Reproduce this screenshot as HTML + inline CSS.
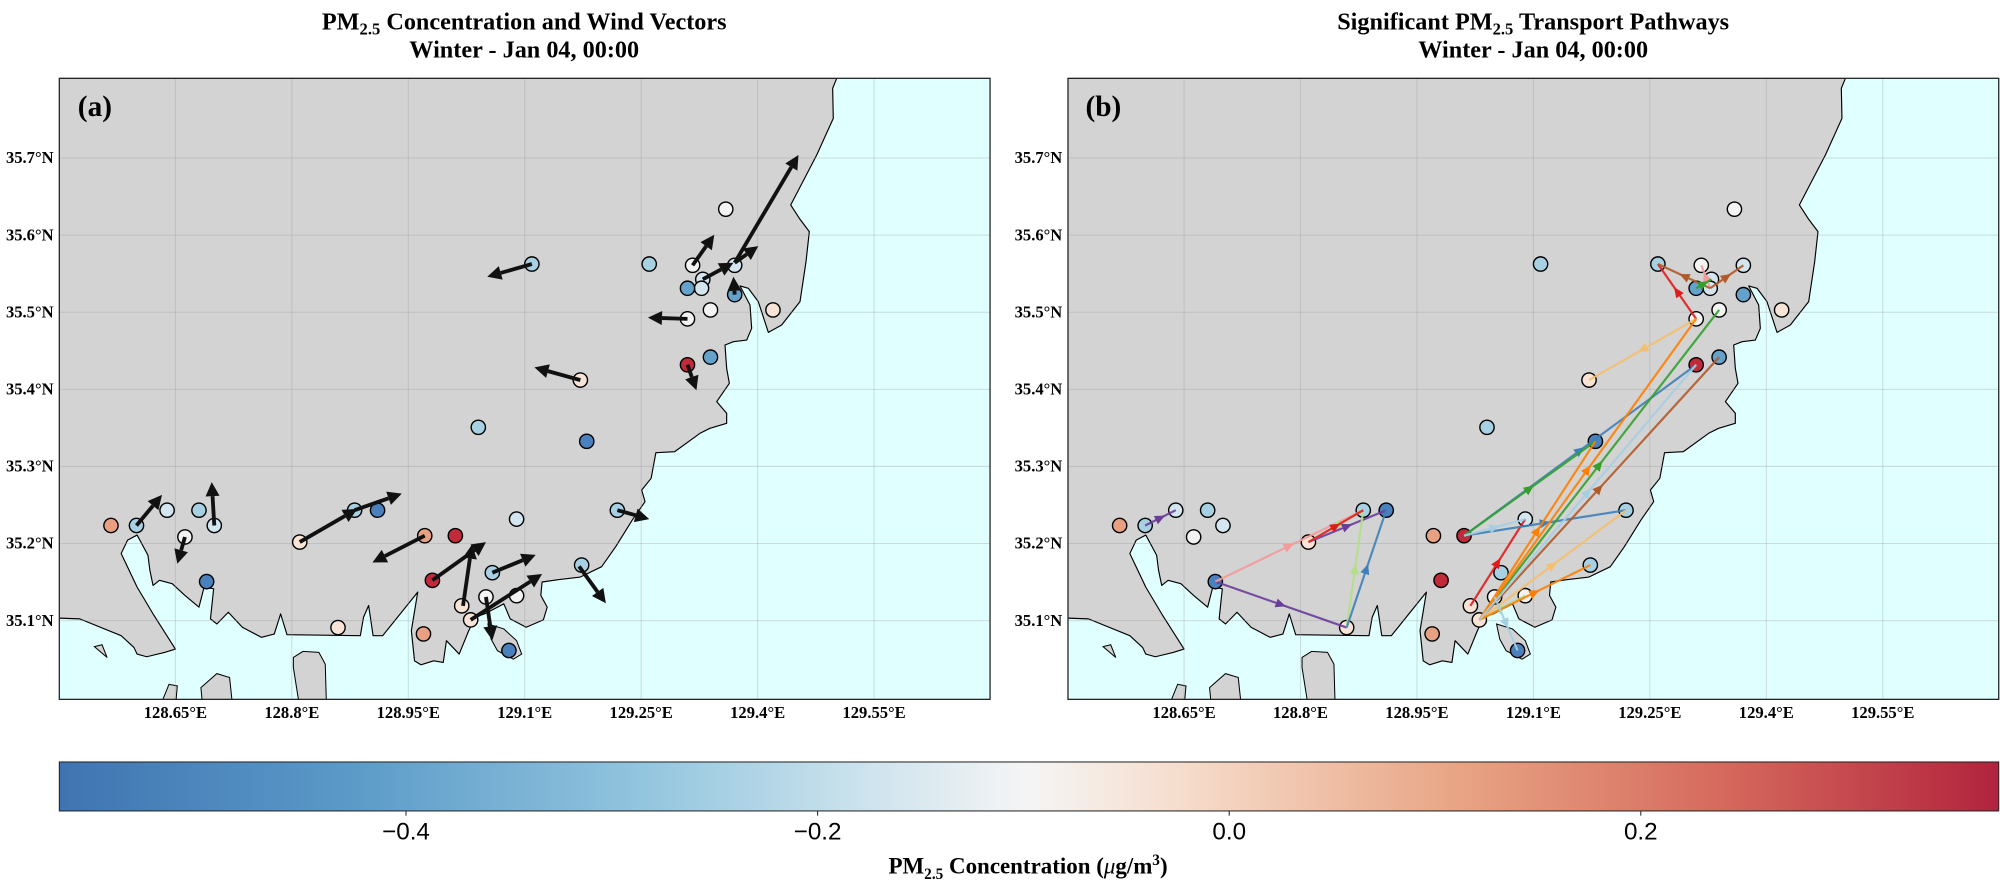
<!DOCTYPE html>
<html><head><meta charset="utf-8">
<style>
html,body{margin:0;padding:0;background:#fff;}
svg{display:block;}
.t{font-family:"Liberation Serif",serif;font-weight:bold;fill:#000;}
.s{font-family:"Liberation Sans",sans-serif;fill:#000;}
</style></head><body>
<svg id="svg" xmlns="http://www.w3.org/2000/svg" width="2000" height="882" viewBox="0 0 1568 691.5" preserveAspectRatio="none">
<defs>
<clipPath id="ca"><rect x="46.5" y="61.4" width="729.7" height="486.9"/></clipPath>
<linearGradient id="cb" x1="0" x2="1" y1="0" y2="0">
<stop offset="0" stop-color="#3f74b1"/><stop offset="0.15" stop-color="#5b9ac8"/><stop offset="0.3" stop-color="#92c5de"/><stop offset="0.42" stop-color="#cfe4ee"/><stop offset="0.5" stop-color="#f5f5f5"/><stop offset="0.58" stop-color="#f6dccb"/><stop offset="0.72" stop-color="#e8a585"/><stop offset="0.86" stop-color="#d5685c"/><stop offset="1" stop-color="#b2233d"/>
</linearGradient>
</defs>
<rect width="1568" height="691.5" fill="#fff"/>
<g id="pa" clip-path="url(#ca)"></g>
<g id="pb" transform="translate(790.8,0)"><g id="pb2" clip-path="url(#ca)"></g></g>
<rect x="46.5" y="61.4" width="729.7" height="486.9" fill="none" stroke="#222" stroke-width="1"/>
<rect x="837.3" y="61.4" width="729.7" height="486.9" fill="none" stroke="#222" stroke-width="1"/>
<!-- titles -->
<text class="t" x="411" y="23" font-size="19" text-anchor="middle">PM<tspan font-size="13" dy="4">2.5</tspan><tspan dy="-4"> Concentration and Wind Vectors</tspan></text>
<text class="t" x="411" y="45" font-size="19" text-anchor="middle">Winter - Jan 04, 00:00</text>
<text class="t" x="1202" y="23" font-size="19" text-anchor="middle">Significant PM<tspan font-size="13" dy="4">2.5</tspan><tspan dy="-4"> Transport Pathways</tspan></text>
<text class="t" x="1202" y="45" font-size="19" text-anchor="middle">Winter - Jan 04, 00:00</text>
<text class="t" x="61" y="91" font-size="23">(a)</text>
<text class="t" x="851" y="91" font-size="23">(b)</text>
<g id="ticks"></g>
<!-- colorbar -->
<rect x="46.5" y="597.4" width="1520.5" height="38.4" fill="url(#cb)" stroke="#222" stroke-width="0.8"/>
<g stroke="#222" stroke-width="0.8"><line x1="318.3" y1="635.8" x2="318.3" y2="639.5"/><line x1="641" y1="635.8" x2="641" y2="639.5"/><line x1="963.7" y1="635.8" x2="963.7" y2="639.5"/><line x1="1286.4" y1="635.8" x2="1286.4" y2="639.5"/></g>
<text class="s" x="318.3" y="658" font-size="19" text-anchor="middle">−0.4</text>
<text class="s" x="641" y="658" font-size="19" text-anchor="middle">−0.2</text>
<text class="s" x="963.7" y="658" font-size="19" text-anchor="middle">0.0</text>
<text class="s" x="1286.4" y="658" font-size="19" text-anchor="middle">0.2</text>
<text class="t" x="806" y="685" font-size="18" text-anchor="middle">PM<tspan font-size="12" dy="4">2.5</tspan><tspan dy="-4"> Concentration (</tspan><tspan font-style="italic" font-weight="normal">μ</tspan>g/m<tspan font-size="12" dy="-7">3</tspan><tspan dy="7">)</tspan></text>
<g font-family="Liberation Serif,serif" font-weight="bold" font-size="13" text-anchor="end">
<text x="42" y="128">35.7°N</text><text x="42" y="188.4">35.6°N</text><text x="42" y="248.9">35.5°N</text><text x="42" y="309.3">35.4°N</text><text x="42" y="369.8">35.3°N</text><text x="42" y="430.2">35.2°N</text><text x="42" y="490.7">35.1°N</text>
<text x="832.8" y="128">35.7°N</text><text x="832.8" y="188.4">35.6°N</text><text x="832.8" y="248.9">35.5°N</text><text x="832.8" y="309.3">35.4°N</text><text x="832.8" y="369.8">35.3°N</text><text x="832.8" y="430.2">35.2°N</text><text x="832.8" y="490.7">35.1°N</text>
</g>
<g font-family="Liberation Serif,serif" font-weight="bold" font-size="13" text-anchor="middle">
<text x="137.5" y="563">128.65°E</text><text x="228.8" y="563">128.8°E</text><text x="320.1" y="563">128.95°E</text><text x="411.4" y="563">129.1°E</text><text x="502.7" y="563">129.25°E</text><text x="594" y="563">129.4°E</text><text x="685.3" y="563">129.55°E</text>
<text x="928.3" y="563">128.65°E</text><text x="1019.6" y="563">128.8°E</text><text x="1110.9" y="563">128.95°E</text><text x="1202.2" y="563">129.1°E</text><text x="1293.5" y="563">129.25°E</text><text x="1384.8" y="563">129.4°E</text><text x="1476.1" y="563">129.55°E</text>
</g>
</svg>
<script>
const NS="http://www.w3.org/2000/svg";
function el(p,t,a){const e=document.createElementNS(NS,t);for(const k in a)e.setAttribute(k,a[k]);p.appendChild(e);return e;}
const land="46.5,61.4 656,61.4 652.8,69.2 653.3,92.8 640.3,121.5 619.9,160.7 626.7,171.2 634.5,181.6 631.9,205.2 627.2,236.5 612.8,254.8 602.4,260.6 594.5,236.5 586.7,226 580.2,224.2 588,239.1 589.3,257.4 585.4,266.6 575,267.9 568.4,270.5 569.7,288.8 571.8,300.5 561.9,314.9 569.7,324 569.7,331.9 556.6,335.8 548.8,339.7 529,354.1 514.2,354.9 510.5,375 503.1,384.2 505.7,393.3 495.7,407.7 482.7,428.6 471.7,444.3 455,452.4 437.5,454.5 425,456.3 424,466.8 429,476 426,486 412.5,491.8 400,485.2 395,473.4 380,481.3 372.5,483.9 367.5,494.4 360,512.8 350,502.3 347.5,519.4 340,518.1 330,521.2 325,518.1 322.5,494.4 327.5,464.2 300,498.4 292.5,498.4 289,474.7 285,483.9 282.5,498.4 225,497.6 220,481.3 215,497.1 205,499.7 190,491.8 179,480 170,489.2 165,485.2 167.5,461.6 160,460.3 156,476 145,466.8 135,457.6 125,455 120,459 117.5,447.1 116,435.3 107.5,419.5 100,423.5 95,434 100,444.5 107.5,460.3 120,481.3 137.5,508.9 129,511.5 115,514.9 107.5,512.8 105,507.6 95,498.4 62.5,485.2 40,484.4 40,55";
const islands=["230,515.4 237.5,510.7 250,511.5 255,520.7 256,555 235,555 230,523.3","157.5,539.1 170,528.1 180,531.2 182.5,555 159,555","125,555 132.5,536.5 139,537.8 137.5,555","74,507 80,505.5 84,515.5","382.5,489.2 395,493.1 405,502.3 409,512.8 402.5,516.8 390,510.2 385,501"];
const C={db:"#4a80bb",mb:"#64a2cc",lb:"#a7d0e2",vl:"#d3e6ef",w:"#f3f3f3",cr:"#f8e4d6",sa:"#e7a182",rd:"#c02a3b"};
const S=[null,[87,412,"sa"],[107,412,"lb"],[131,400,"vl"],[145,421,"w"],[156,400,"lb"],[168,412,"vl"],[162,456,"db"],[235,425,"cr"],[278,400,"lb"],[296,400,"db"],[333,420,"sa"],[357,420,"rd"],[339,455,"rd"],[362,475,"cr"],[386,449,"lb"],[381,468,"w"],[369,486,"cr"],[405,467,"w"],[405,407,"vl"],[456,443,"lb"],[484,400,"lb"],[399,510,"db"],[332,497,"sa"],[265,492,"cr"],[417,207,"lb"],[375,335,"lb"],[460,346,"db"],[455,298,"cr"],[509,207,"lb"],[543,208,"w"],[551,219,"vl"],[550,226,"vl"],[539,226,"mb"],[576,208,"vl"],[569,164,"w"],[576,231,"mb"],[557,243,"w"],[539,250,"w"],[606,243,"cr"],[539,286,"rd"],[557,280,"mb"]];
function base(g){
 el(g,"rect",{x:40,y:55,width:745,height:500,fill:"#e0ffff"});
 el(g,"polygon",{points:land,fill:"#d3d3d3",stroke:"#000","stroke-width":0.9,"stroke-linejoin":"round"});
 islands.forEach(p=>el(g,"polygon",{points:p,fill:"#d3d3d3",stroke:"#000","stroke-width":0.8}));
 const gg=el(g,"g",{stroke:"#9a9a9a","stroke-opacity":0.35,"stroke-width":0.8});
 for(let k=0;k<7;k++){const x=137.5+k*91.3;el(gg,"line",{x1:x,y1:55,x2:x,y2:555});}
 for(let k=0;k<7;k++){const y=123.9+k*60.45;el(gg,"line",{x1:40,y1:y,x2:785,y2:y});}
}
function dots(g){for(let i=1;i<S.length;i++){const s=S[i];el(g,"circle",{cx:s[0],cy:s[1],r:5.6,fill:C[s[2]],stroke:"#000","stroke-width":1.1});}}
function arrowA(g,x1,y1,x2,y2){const dx=x2-x1,dy=y2-y1,L=Math.hypot(dx,dy),ux=dx/L,uy=dy/L,h=11,w=5.5;
 const bx=x2-ux*h,by=y2-uy*h;
 el(g,"line",{x1:x1,y1:y1,x2:bx,y2:by,stroke:"#111","stroke-width":3});
 el(g,"polygon",{points:`${x2},${y2} ${bx-uy*w},${by+ux*w} ${bx+uy*w},${by-ux*w}`,fill:"#111"});}
function arrowB(g,a,b,c){const x1=S[a][0],y1=S[a][1],x2=S[b][0],y2=S[b][1];const dx=x2-x1,dy=y2-y1,L=Math.hypot(dx,dy),ux=dx/L,uy=dy/L;
 el(g,"line",{x1:x1,y1:y1,x2:x2,y2:y2,stroke:c,"stroke-width":1.7,"stroke-opacity":0.9});
 const mx=(x1+x2)/2+ux*4,my=(y1+y2)/2+uy*4,h=8,w=3.6,bx=mx-ux*h,by=my-uy*h;
 el(g,"polygon",{points:`${mx},${my} ${bx-uy*w},${by+ux*w} ${bx+uy*w},${by-ux*w}`,fill:c});}
const pa=document.getElementById("pa"),pb=document.getElementById("pb2");
base(pa);base(pb);dots(pa);
const AR=[[107,412,127,388],[145,421,139,442],[168,412,166,378],[235,425,280,399],[278,400,315,387],[333,420,292,441],[339,455,381,425],[363,475,370,427],[386,449,420,435],[381,468,386,502],[369,486,425,450],[454,444,475,473],[484,400,509,407],[417,207,382,217],[455,298,419,288],[543,208,560,184],[551,219,575,206],[576,206,626,121.5],[576,206,594.5,193],[576,231,575,217],[539,250,508,249],[539,286,546,306]];
AR.forEach(a=>arrowA(pa,...a));
dots(pb);
const col={pu:"#6a3d9a",pk:"#f39a9a",lg:"#b2df8a",rd:"#e31a1c",bl:"#3f7fb8",br:"#b15928",gr:"#33a02c",lo:"#f4bf6f",or:"#ff7f00",lb:"#a6cee3"};
const E=[[2,3,"pu"],[7,24,"pu"],[8,10,"pu"],[7,9,"pk"],[32,30,"pk"],[24,9,"lg"],[9,8,"lg"],[17,18,"lg"],[8,9,"rd"],[38,29,"rd"],[14,19,"rd"],[24,10,"bl"],[12,40,"bl"],[12,21,"bl"],[32,29,"br"],[32,34,"br"],[17,41,"br"],[33,31,"gr"],[17,37,"gr"],[12,27,"gr"],[38,28,"lo"],[17,21,"lo"],[17,38,"or"],[17,27,"or"],[17,20,"or"],[17,40,"lb"],[12,19,"lb"],[16,22,"lb"]];
E.forEach(e=>arrowB(pb,e[0],e[1],col[e[2]]));
</script>
</body></html>
